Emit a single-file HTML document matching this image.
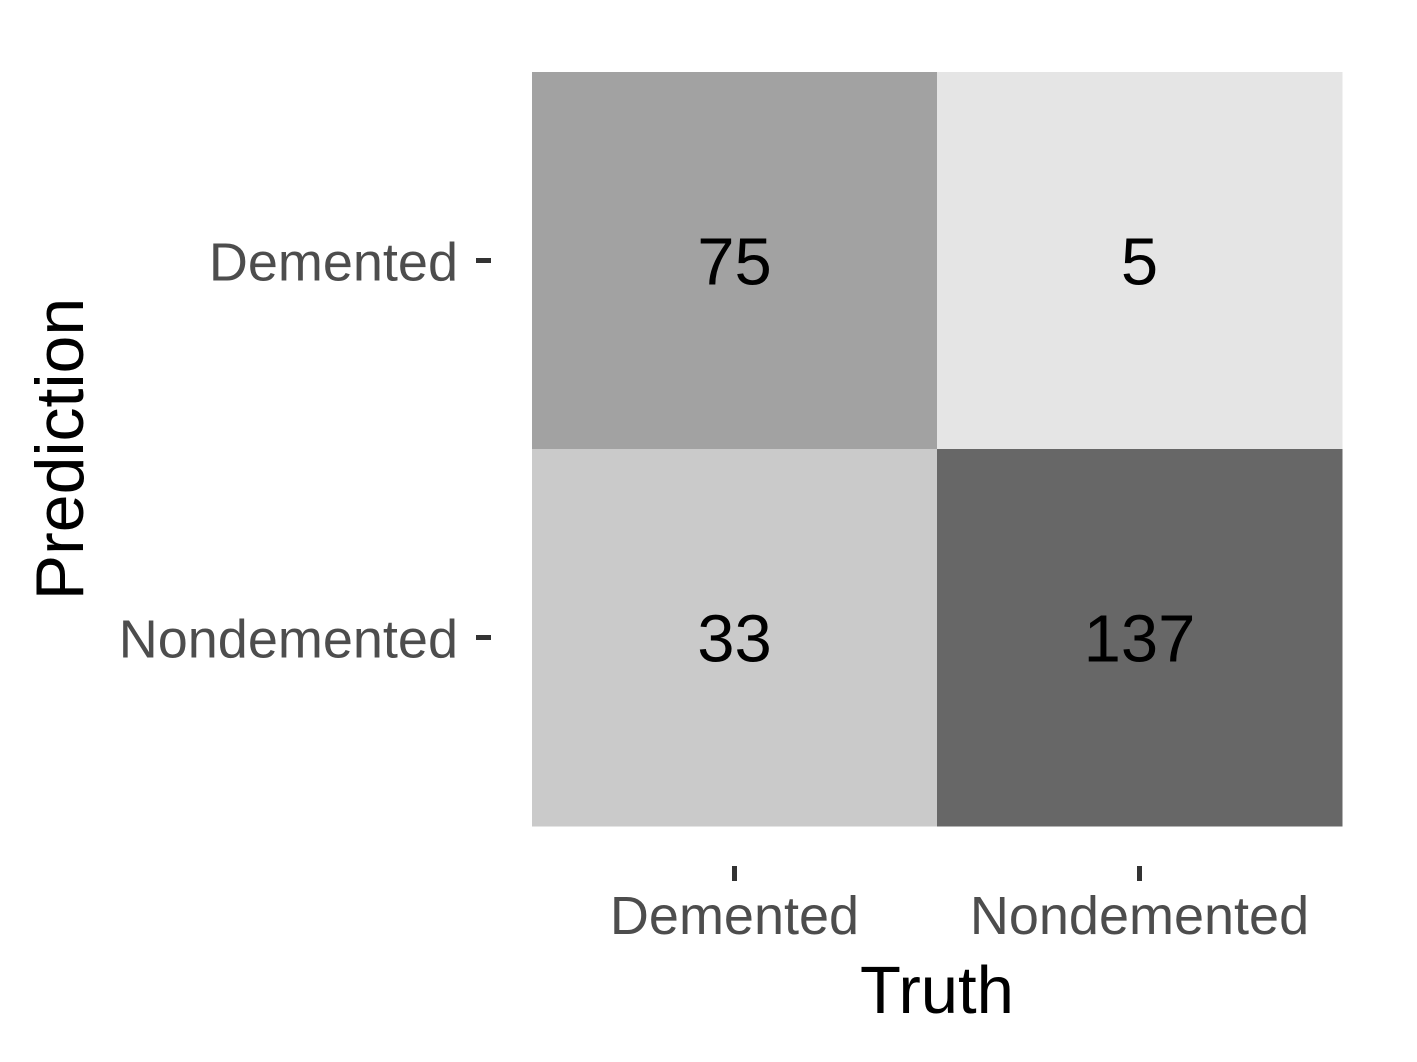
<!DOCTYPE html>
<html><head><meta charset="utf-8"><style>html,body{margin:0;padding:0;background:#fff}svg{display:block}</style></head>
<body>
<svg id="chart" width="1417" height="1062" xmlns="http://www.w3.org/2000/svg" font-family="Liberation Sans, Arial, sans-serif">
<rect width="1417" height="1062" fill="#fff"/>
<g id="cells"></g>
<g id="axes"></g>
<text x="937" y="1013" font-size="67" text-anchor="middle" fill="#000">Truth</text>
<text transform="translate(83,449) rotate(-90)" font-size="68" text-anchor="middle" fill="#000">Prediction</text>
</svg>
<script>
const truthCats = ["Demented", "Nondemented"];
const predCats = ["Demented", "Nondemented"];
// counts[row=prediction][col=truth]
const countsDemented = [75, 5];
const countsNondemented = [33, 137];
const counts = [countsDemented, countsNondemented];

const NS = "http://www.w3.org/2000/svg";
const px0 = 532, px1 = 1342, py0 = 72, py1 = 826;
const cw = (px1 - px0) / truthCats.length, ch = (py1 - py0) / predCats.length;
const xPos = i => px0 + i * cw;
const yPos = j => py0 + j * ch;
const allVals = counts.flat();
const vmin = Math.min(...allVals), vmax = Math.max(...allVals);
const fillFor = v => { const g = Math.round(229 - (v - vmin) / (vmax - vmin) * 126); return `rgb(${g},${g},${g})`; };

const cells = document.getElementById('cells');
const axes = document.getElementById('axes');
function mk(tag, attrs, parent) { const e = document.createElementNS(NS, tag); for (const k in attrs) e.setAttribute(k, attrs[k]); parent.appendChild(e); return e; }

counts.forEach((row, j) => row.forEach((v, i) => {
  const r = mk('rect', {x: xPos(i), y: yPos(j), width: cw + 0.5, height: ch + 0.5, fill: fillFor(v)}, cells);
  
  
  const t = mk('text', {x: xPos(i) + cw / 2, y: yPos(j) + ch / 2 + 24, 'font-size': 67, 'text-anchor': 'middle', fill: '#000'}, cells);
  t.textContent = v;
  
  
}));

predCats.forEach((c, j) => {
  const cy = yPos(j) + ch / 2;
  const tk = mk('line', {x1: 476, x2: 491, y1: cy, y2: cy, stroke: '#333', 'stroke-width': 5}, axes);
  
  
  const t = mk('text', {x: 458, y: cy + 20, 'font-size': 54, 'text-anchor': 'end', fill: '#4d4d4d'}, axes);
  t.textContent = c;
  
  
});
truthCats.forEach((c, i) => {
  const cx = xPos(i) + cw / 2;
  const tk = mk('line', {x1: cx, x2: cx, y1: 866, y2: 881, stroke: '#333', 'stroke-width': 5}, axes);
  
  
  const t = mk('text', {x: cx, y: 934, 'font-size': 54, 'text-anchor': 'middle', fill: '#4d4d4d'}, axes);
  t.textContent = c;
  
  
});
</script>
</body></html>
